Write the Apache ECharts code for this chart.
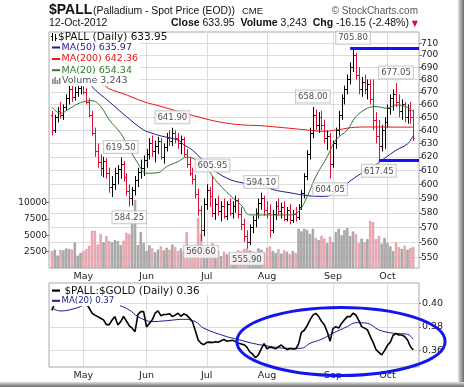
<!DOCTYPE html>
<html><head><meta charset="utf-8">
<script src="https://cdn.jsdelivr.net/npm/echarts@6/dist/echarts.min.js"></script>
<style>html,body{margin:0;padding:0;background:#fff}#c{width:464px;height:387px}</style>
</head><body><div id="c"></div><script>
// ---- trading days (categories) ----
const monthNames = ['Apr','May','Jun','Jul','Aug','Sep','Oct'];
const aprDays = [16,17,18,19,20,23,24,25,26,27,30];
const mayDays = [1,2,3,4,7,8,9,10,11,14,15,16,17,18,21,22,23,24,25,29,30,31];
const junDays = [1,4,5,6,7,8,11,12,13,14,15,18,19,20,21,22,25,26,27,28,29];
const julDays = [2,3,5,6,9,10,11,12,13,16,17,18,19,20,23,24,25,26,27,30,31];
const augDays = [1,2,3,6,7,8,9,10,13,14,15,16,17,20,21,22,23,24,27,28,29,30,31];
const sepDays = [4,5,6,7,10,11,12,13,14,17,18,19,20,21,24,25,26,27,28];
const octDays = [1,2,3,4,5,8,9,10,11,12];

// ---- daily OHLC ($PALL) ----
const open = [652,640,650,655,652,658,665,672,666,670, 673,676,670,662,652,638,624,616,612,617, 608,598,600,608,611,615,605,595,590,596, 603,609,612,618,622,630,624,628,632,620, 627,634,632,638,634,630,633,622,615,608, 604,593,582,568,586,596,592,580,586,581, 585,578,586,580,585,589,579,572,564,560, 570,575,580,587,590,582,580,568,579,585, 581,584,576,582,575,579,577,584,594,606, 622,638,652,644,650,644,634,636,615,630, 640,652,665,672,680,690,700,684,672,678, 672,676,664,648,636,628,640,646,657,665, 668,662,655,660,650,656,650.1];
const high = [655,652,658,662,660,668,675,676,674,678, 679,681,673,665,655,642,630,622,620,619, 612,606,612,614,619.5,617,608,600,598,606, 612,618,621,626,634,636,632,635,634,630, 638,640,641.9,640,638,636,635,626,620,612, 607,597,585,590,600,598,605.95,590,592,588, 590,588,590,588,592,590,584,576,568,572, 578,583,590,594.1,592,588,586,582,588,590, 587,588,584,586,582,584,586,596,608,625, 642,658,656,654,655,648,640,638,632,642, 655,668,675,684,694,705.8,702,690,682,684, 680,680,680,654,648,644,650,660,668,672, 677.05,668,664,662,660,662,656];
const low = [636,638,646,649,648,655,660,662,663,666, 668,668,660,650,636,620,612,606,605,604, 594,591,596,600,604,602,592,584.25,585,592, 598,604,606,612,618,620,616,622,618,615, 624,628,628,630,626,622,620,612,606,600, 590,578,560.6,564,582,584,577,575,578,574, 576,575,578,576,580,576,568,560,555.9,558, 566,570,576,582,578,576,563,566,575,578, 576,574,574,572,573,574,575,582,590,603, 618,634,640,638,640,630,625,604.05,612,626, 636,648,660,668,676,686,680,668,666,668, 664,660,640,630,617.45,624,626,642,652,655, 658,650,648,646,645,645,632];
const close = [640,650,655,652,658,665,672,666,670,673, 676,670,662,652,638,624,616,612,617,608, 598,600,608,611,615,605,595,590,596,603, 609,612,618,622,630,624,628,632,620,627, 634,632,638,634,630,633,622,615,608,604, 593,582,568,586,596,592,580,586,581,585, 578,586,580,585,589,579,572,564,560,570, 575,580,587,590,582,580,568,579,585,581, 584,576,582,575,579,577,584,594,606,622, 638,652,644,650,644,634,636,615,630,640, 652,665,672,680,690,700,684,672,678,672, 676,664,648,636,628,640,646,657,665,668, 662,655,660,650,656,650.1,633.95];
const volume = [2600,2800,1900,2800,2700,3000,2900,2800,3900,1900, 2300,2600,2900,3400,5700,5700,3600,5200,3900,4900, 4100,3900,4300,4100,3500,4200,5400,5200,7000,10400, 3500,5500,3800,2600,3500,3000,2400,2800,3300,2700, 3100,2800,3600,3200,2600,3000,2500,5500,3000,2800, 3200,7600,5200,3300,2400,2600,3800,2200,2600,1800, 2500,2100,2400,1900,2300,2700,2500,2900,3100,2700, 2500,2400,3000,2800,2300,3100,3300,2600,2300,2900, 2200,2700,2500,2100,2600,2300,6000,5600,6000,5800, 5200,6000,4600,4300,4900,4500,3800,4800,3900,5500, 6000,5000,5800,6100,4900,5600,5200,3800,4500,3900, 4400,7200,7000,4400,4900,3700,4600,3800,3300,2600, 3900,3200,2900,3400,2800,3100,3243];

// ---- moving averages: [trading-day index, value] ----
const ma50 = [[10,685],[14,680],[15,674.2],[21,662.2],[27,650.5],[33,640.2],[36,637.7],[39,635.7],[45,632.5],[47,629],[50,625],[56,612.8],[62,604.4],[68,600.8],[74,599.6],[78,596.3],[84,594],[90,592],[96,591.3],[101,596],[107,605.4],[113,612.8],[117,618.9],[121,624.9],[125,629.7],[127,635.97]];
const ma200 = [[12,681],[19,675.6],[21,672.5],[27,667.6],[33,662.2],[39,658.5],[45,654.6],[50,651.5],[56,648],[62,645.4],[68,644],[74,643.5],[78,642.7],[84,641.5],[90,640.2],[96,639.2],[101,640.5],[107,642.3],[113,642.5],[120,642.4],[127,642.36]];
const ma20 = [[1,658],[4,653.1],[7,656.5],[11,661.4],[15,663],[18,658.5],[21,648],[25,637.7],[27,630.2],[31,615.2],[34,608],[38,608.4],[41,612.8],[45,616.5],[48,619.7],[50,619],[54,614.1],[58,603.2],[63,592.4],[67,585.4],[70,578.5],[74,578.5],[78,578.5],[84,578.5],[87,580.8],[90,591.3],[93,605.5],[97,620.1],[100,632.6],[104,640.2],[107,650.5],[111,657],[114,658.3],[118,657],[121,659.6],[125,657.8],[127,654.34]];

// ---- $PALL:$GOLD ratio ----
const ratio = [0.394,0.400,0.401,0.402,0.401,0.403,0.402,0.401,0.403,0.404, 0.402,0.401,0.400,0.396,0.3916,0.390,0.3887,0.3873,0.386,0.382, 0.382,0.3859,0.3887,0.3817,0.3845,0.389,0.385,0.381,0.379,0.376, 0.3905,0.3929,0.3929,0.380,0.383,0.386,0.3916,0.3935,0.3895,0.3905, 0.3905,0.3912,0.3888,0.390,0.3916,0.389,0.391,0.390,0.3875,0.3845, 0.377,0.369,0.3662,0.365,0.367,0.3672,0.3668,0.3676,0.3671,0.3684, 0.3694,0.368,0.3684,0.3688,0.3676,0.3662,0.3657,0.365,0.363,0.359, 0.357,0.354,0.3564,0.3615,0.366,0.3615,0.363,0.3625,0.3615,0.3634, 0.3648,0.3625,0.3608,0.3618,0.3615,0.3614,0.3655,0.3755,0.3772,0.381, 0.386,0.390,0.3915,0.389,0.3848,0.3818,0.376,0.368,0.3785,0.3803, 0.379,0.383,0.386,0.3887,0.3887,0.3916,0.3901,0.3855,0.3803,0.379, 0.3777,0.372,0.367,0.361,0.3585,0.3564,0.360,0.3645,0.3672,0.373, 0.3745,0.3732,0.3732,0.372,0.369,0.3635,0.3606];
const ratioMa20 = [[1,0.396],[4,0.3935],[9,0.3955],[13,0.399],[17,0.400],[21,0.400],[24,0.3986],[28,0.3943],[31,0.3887],[36,0.3845],[41,0.3853],[47,0.3865],[51,0.3845],[54,0.3789],[62,0.3718],[65,0.3700],[71,0.3662],[76,0.364],[83,0.362],[88,0.362],[91,0.3662],[95,0.3696],[99,0.3747],[104,0.3803],[107,0.3836],[111,0.3831],[115,0.3775],[120,0.3747],[125,0.3738],[127,0.3696]];

// ---- tick labels & annotations ----
const priceTicks = [550,560,570,580,590,600,610,620,630,640,650,660,670,680,690,700,710];
const volTicks = [2500,5000,7500,10000];
const ratioTicks = [0.36,0.38,0.40];
const hiIdx = [25,43,57,74,92,106,121];
const hiVal = [619.50,641.90,605.95,594.10,658.00,705.80,677.05];
const loIdx = [28,53,69,98,115];
const loVal = [584.25,560.60,555.90,604.05,617.45];
const levelLines = [[105,705.80],[115,617.45]];
const ellipseNote = {cx:101.8, cy:0.3678, rx:36.3, ry:0.0287};

// ---- build ----
const L = Math.log;
const RED = '#dd1133', NAVY = '#1c1c8c', GREEN = '#2a7a2a';
const monthDays = [aprDays,mayDays,junDays,julDays,augDays,sepDays,octDays];
const dates = [];
monthDays.forEach((days,m)=>days.forEach(d=>dates.push(monthNames[m]+' '+d)));
const cats = [' '].concat(dates,['  ','   ']);
const monthSet = new Set();
let kk = 1;
monthDays.forEach((days,m)=>{ if(m>0) monthSet.add(kk); kk += days.length; });
const isDown = j => j===0 ? close[0] < open[0] : close[j] < close[j-1];

const ohlc = dates.map((d,j)=>[j+1, L(open[j]), L(high[j]), L(low[j]), L(close[j]), isDown(j)?1:0]);
const volData = volume.map((v,j)=>({value:[j+1,v], itemStyle: isDown(j)
  ? {color:'#efb2bb', borderColor:'#d98a96', borderWidth:0.6}
  : {color:'#b3b3b3', borderColor:'#8c8c8c', borderWidth:0.6}}));

const FONT = 'DejaVu Sans';
function xAxisFor(g){
  return {type:'category', gridIndex:g, data:cats, boundaryGap:false,
    axisLine:{show:false}, axisTick:{show:false},
    axisLabel:{show:true, interval:(i)=>monthSet.has(i), formatter:v=>v.split(' ')[0],
      fontSize:9.5, fontFamily:FONT, color:'#222', margin:4},
    splitLine:{show:true, interval:(i)=>monthSet.has(i), lineStyle:{color:'#dcdcdc', width:1}}};
}

const chart = echarts.init(document.getElementById('c'), null, {renderer:'canvas', width:464, height:387});
const labelBox = {show:true, fontSize:8.5, fontFamily:FONT, color:'#222', backgroundColor:'#fff',
  borderColor:'#bdbdbd', borderWidth:1, padding:[2,2,1,2], formatter:p=>p.data[2]};

chart.setOption({
  animation:false,
  backgroundColor:'#fff',
  grid:[
    {left:49, top:32, width:370, height:236, show:true, borderColor:'#a8a8a8', borderWidth:1, backgroundColor:'#fff'},
    {left:49, top:283, width:370, height:84, show:true, borderColor:'#a8a8a8', borderWidth:1, backgroundColor:'#fff'}
  ],
  xAxis:[xAxisFor(0), xAxisFor(1)],
  yAxis:[
    {type:'value', gridIndex:0, position:'right', min:L(543), max:L(719.6),
      axisLine:{show:false},
      axisTick:{show:true, length:3, customValues:priceTicks.map(L), lineStyle:{color:'#777'}},
      axisLabel:{customValues:priceTicks.map(L), formatter:v=>String(Math.round(Math.exp(v))), fontSize:9, fontFamily:FONT, color:'#222', margin:2},
      splitLine:{show:true, lineStyle:{color:'#dcdcdc', width:1}}},
    {type:'value', gridIndex:0, position:'left', min:0, max:36100,
      axisLine:{show:false},
      axisTick:{show:true, length:3, customValues:volTicks, lineStyle:{color:'#777'}},
      axisLabel:{customValues:volTicks, formatter:v=>String(v), fontSize:9, fontFamily:FONT, color:'#222', margin:2},
      splitLine:{show:false}},
    {type:'value', gridIndex:1, position:'right', min:0.3462, max:0.4171,
      axisLine:{show:false},
      axisTick:{show:true, length:2, customValues:ratioTicks, lineStyle:{color:'#777'}},
      axisLabel:{customValues:ratioTicks, formatter:v=>v.toFixed(2), fontSize:9.5, fontFamily:FONT, color:'#222', margin:3},
      splitLine:{show:true, lineStyle:{color:'#dcdcdc', width:1}}}
  ],
  series:[
    {type:'bar', xAxisIndex:0, yAxisIndex:1, data:volData, barWidth:2.3, z:1, silent:true},
    {type:'custom', xAxisIndex:0, yAxisIndex:0, data:ohlc, z:3, silent:true, clip:true,
      dimensions:['x','o','h','l','c','d'], encode:{x:0, y:[1,2,3,4]},
      renderItem:(params, api)=>{
        const hi = api.coord([api.value(0), api.value(2)]);
        const lo = api.coord([api.value(0), api.value(3)]);
        const o = api.coord([api.value(0), api.value(1)]);
        const c = api.coord([api.value(0), api.value(4)]);
        const col = api.value(5) ? RED : '#000';
        const xx = Math.round(hi[0]) + 0.5;
        const oy = Math.round(o[1]) + 0.5, cy = Math.round(c[1]) + 0.5;
        return {type:'group', children:[
          {type:'line', shape:{x1:xx, y1:hi[1], x2:xx, y2:lo[1]}, style:{stroke:col, lineWidth:1}},
          {type:'line', shape:{x1:xx-1.6, y1:oy, x2:xx, y2:oy}, style:{stroke:col, lineWidth:1}},
          {type:'line', shape:{x1:xx, y1:cy, x2:xx+1.6, y2:cy}, style:{stroke:col, lineWidth:1}}
        ]};
      }},
    {type:'line', xAxisIndex:0, yAxisIndex:0, data:ma200.map(p=>[p[0],L(p[1])]), smooth:0.4, showSymbol:false, z:4, silent:true,
      lineStyle:{color:'#ee1111', width:1}},
    {type:'line', xAxisIndex:0, yAxisIndex:0, data:ma50.map(p=>[p[0],L(p[1])]), smooth:0.4, showSymbol:false, z:4, silent:true,
      lineStyle:{color:NAVY, width:1},
      markLine:{silent:true, symbol:'none', label:{show:false}, lineStyle:{color:'#1414f0', width:3, type:'solid'},
        data: levelLines.map(l=>[{coord:[l[0], L(l[1])]}, {coord:[129, L(l[1])]}])}},
    {type:'line', xAxisIndex:0, yAxisIndex:0, data:ma20.map(p=>[p[0],L(p[1])]), smooth:0.4, showSymbol:false, z:4, silent:true,
      lineStyle:{color:GREEN, width:1}},
    {type:'scatter', xAxisIndex:0, yAxisIndex:0, symbolSize:1, itemStyle:{color:'rgba(0,0,0,0)'}, z:6, silent:true,
      data: hiIdx.map((ix,j)=>[ix, L(hiVal[j]), hiVal[j].toFixed(2)]),
      label:Object.assign({position:'top', distance:4}, labelBox)},
    {type:'scatter', xAxisIndex:0, yAxisIndex:0, symbolSize:1, itemStyle:{color:'rgba(0,0,0,0)'}, z:6, silent:true,
      data: loIdx.map((ix,j)=>[ix, L(loVal[j]), loVal[j].toFixed(2)]),
      label:Object.assign({position:'bottom', distance:4}, labelBox)},
    {type:'line', xAxisIndex:1, yAxisIndex:2, data:ratioMa20, smooth:0.4, showSymbol:false, z:3, silent:true,
      lineStyle:{color:NAVY, width:1}},
    {type:'line', xAxisIndex:1, yAxisIndex:2, data:ratio.map((v,j)=>[j+1,v]), showSymbol:false, z:4, silent:true,
      lineStyle:{color:'#000', width:1.6}}
  ]
});

// ---- annotations, header, legends ----
const p0 = chart.convertToPixel({xAxisIndex:1}, 0);
const p129 = chart.convertToPixel({xAxisIndex:1}, 129);
const step = (p129 - p0) / 129;
const ecx = p0 + ellipseNote.cx * step;
const ecy = chart.convertToPixel({yAxisIndex:2}, ellipseNote.cy);
const ecyTop = chart.convertToPixel({yAxisIndex:2}, ellipseNote.cy + ellipseNote.ry);

const G = [];
function txt(x, y, text, font, fill, extra){
  G.push(Object.assign({type:'text', x:x, y:y, z:100, style:Object.assign({text:text, font:font, fill:fill, verticalAlign:'middle'}, extra||{})}));
}
function rect(x, y, w, h, fill, extra){
  G.push(Object.assign({type:'rect', z:99, shape:{x:x, y:y, width:w, height:h}, style:{fill:fill}}, extra||{}));
}
// header
txt(49, 10.5, '$PALL', 'bold 14px "Liberation Sans"', '#111');
txt(93, 11, '(Palladium - Spot Price (EOD))', '10.4px "Liberation Sans"', '#111');
txt(242, 11.5, 'CME', '9.5px "Liberation Sans"', '#111');
txt(418, 11, '\u00a9 StockCharts.com', '10px "Liberation Sans"', '#555', {align:'right'});
txt(49, 23.5, '12-Oct-2012', '10.5px "Liberation Sans"', '#111');
G.push({type:'text', x:418, y:23.5, z:100, style:{
  text:'{b|Close} 633.95  {b|Volume} 3,243  {b|Chg} -16.15 (-2.48%) {r|\u25bc}',
  font:'10.5px "Liberation Sans"', fill:'#111', align:'right', verticalAlign:'middle',
  rich:{b:{font:'bold 10.5px "Liberation Sans"', fill:'#111'}, r:{font:'8px "DejaVu Sans"', fill:'#cc1133'}}}});

// main legend
rect(50, 33, 132, 9, '#fff');
rect(50, 42, 90, 44, '#fff');
txt(58, 37, '$PALL (Daily) 633.95', '10.5px "DejaVu Sans"', '#111');
G.push({type:'line', z:101, shape:{x1:52.5, y1:33, x2:52.5, y2:41}, style:{stroke:'#000', lineWidth:1}});
G.push({type:'line', z:101, shape:{x1:55.5, y1:34, x2:55.5, y2:41}, style:{stroke:'#000', lineWidth:1}});
G.push({type:'line', z:101, shape:{x1:51, y1:36.5, x2:52.5, y2:36.5}, style:{stroke:'#000', lineWidth:1}});
G.push({type:'line', z:101, shape:{x1:55.5, y1:38.5, x2:57, y2:38.5}, style:{stroke:'#000', lineWidth:1}});
const rows = [[47.5,'MA(50) 635.97',NAVY],[59,'MA(200) 642.36','#ee1111'],[70.2,'MA(20) 654.34',GREEN]];
rows.forEach(r=>{
  G.push({type:'rect', z:101, shape:{x:52, y:r[0]-1, width:8, height:2}, style:{fill:r[2]}});
  txt(61.5, r[0], r[1], '9.5px "DejaVu Sans"', r[2]);
});
[[52,79,1.6,5],[54.3,77,1.6,7],[56.6,80,1.6,4],[58.9,78,1.6,6]].forEach(b=>{
  G.push({type:'rect', z:101, shape:{x:b[0], y:b[1], width:b[2], height:b[3]}, style:{fill:'#888'}});
});
txt(62, 80.8, 'Volume 3,243', '9.5px "DejaVu Sans"', '#555');

// bottom legend
rect(50, 285, 162, 10, '#fff');
rect(50, 295, 70, 11, '#fff');
G.push({type:'rect', z:101, shape:{x:52, y:289.5, width:8, height:2.2}, style:{fill:'#000'}});
txt(64.5, 290.8, '$PALL:$GOLD (Daily) 0.36', '10.4px "DejaVu Sans"', '#111');
G.push({type:'rect', z:101, shape:{x:52, y:299.8, width:8, height:2}, style:{fill:NAVY}});
txt(61.5, 301, 'MA(20) 0.37', '8.6px "DejaVu Sans"', NAVY);

// blue ellipse annotation
G.push({type:'ellipse', z:120, shape:{cx:ecx, cy:ecy, rx:ellipseNote.rx*step, ry:Math.abs(ecy-ecyTop)},
  style:{fill:'none', stroke:'#1515ee', lineWidth:3}});

// frame shadow
G.push({type:'rect', z:110, shape:{x:458, y:0, width:6, height:387}, style:{fill:new echarts.graphic.LinearGradient(0,0,1,0,[{offset:0,color:'#e0e0e0'},{offset:1,color:'#6a6a6a'}])}});
G.push({type:'rect', z:110, shape:{x:0, y:382, width:464, height:5}, style:{fill:new echarts.graphic.LinearGradient(0,0,0,1,[{offset:0,color:'#e0e0e0'},{offset:1,color:'#6a6a6a'}])}});

chart.setOption({graphic:G});
</script></body></html>
